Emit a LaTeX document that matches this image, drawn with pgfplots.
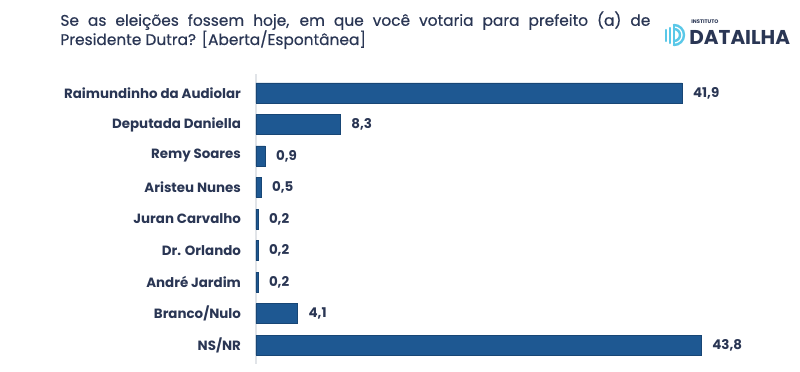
\documentclass[border=0pt]{standalone}
\usepackage{pgfplots}
\pgfplotsset{compat=1.18}
\usepackage{fontspec}
\setmainfont{Poppins}
\newfontfamily\titlefont{Poppins}[FakeBold=0.5]
\definecolor{barblue}{RGB}{30,88,146}
\definecolor{txt}{RGB}{42,54,84}
\definecolor{cyanlogo}{RGB}{90,200,232}
\definecolor{axisgray}{RGB}{225,228,232}
\begin{document}
\begin{tikzpicture}[x=0.5pt,y=0.5pt]
\useasboundingbox (0,0) rectangle (800,371);
\fill[white] (0,0) rectangle (800,371);
% title
\node[anchor=north west, inner sep=0pt, text width=295pt, align=justify, text=txt, font=\titlefont\fontsize{7.7pt}{9.6pt}\selectfont] at (60,360)
{Se as eleições fossem hoje, em que você votaria para prefeito (a) de\linebreak Presidente Dutra? [Aberta/Espontânea]};
% logo
\begin{scope}[cyanlogo, line width=1.2pt, line cap=round]
\draw (666,330) -- (666,341);
\draw (670,328) -- (670,343);
\draw (674,326) -- (674,346);
\draw (674,346) arc (90:-90:10);
\draw (674,342) arc (90:-90:6);
\end{scope}
\node[anchor=west, inner sep=0pt, text=txt, font=\fontsize{2.6pt}{3pt}\selectfont\bfseries] at (691,349) {INSTITUTO};
\node[anchor=west, inner sep=0pt, text=txt, font=\fontsize{10pt}{12pt}\selectfont\bfseries] at (689,334) {DATAILHA};
\begin{axis}[
  at={(128pt,148.5pt)}, anchor=north west,
  scale only axis,
  width=254.25pt, height=145pt,
  xbar, bar width=10pt, bar shift=0pt,
  xmin=0, xmax=50,
  ymin=-0.6, ymax=8.6, y dir=reverse,
  ytick={0,...,8},
  yticklabels={Raimundinho da Audiolar, Deputada Daniella, Remy Soares, Aristeu Nunes, Juran Carvalho, Dr. Orlando, André Jardim, Branco/Nulo, NS/NR},
  yticklabel style={font=\fontsize{6.7pt}{8pt}\selectfont\bfseries, text=txt, xshift=-4pt},
  major tick length=0pt,
  axis x line=none,
  axis y line*=left,
  y axis line style={draw=axisgray, line width=0.6pt},
  nodes near coords,
  nodes near coords style={font=\fontsize{6.7pt}{8pt}\selectfont\bfseries, text=txt, anchor=west, xshift=2pt,
    /pgf/number format/.cd, fixed, fixed zerofill, precision=1, use comma, assume math mode=true},
  point meta=explicit,
  clip=false,
]
\addplot[fill=barblue, draw=barblue!80!black, line width=0.3pt] table[x=v, y=i, meta=v] {
i v
0 41.9
1 8.3
2 0.9
3 0.5
4 0.2
5 0.2
6 0.2
7 4.1
8 43.8
};
\end{axis}
\end{tikzpicture}
\end{document}
